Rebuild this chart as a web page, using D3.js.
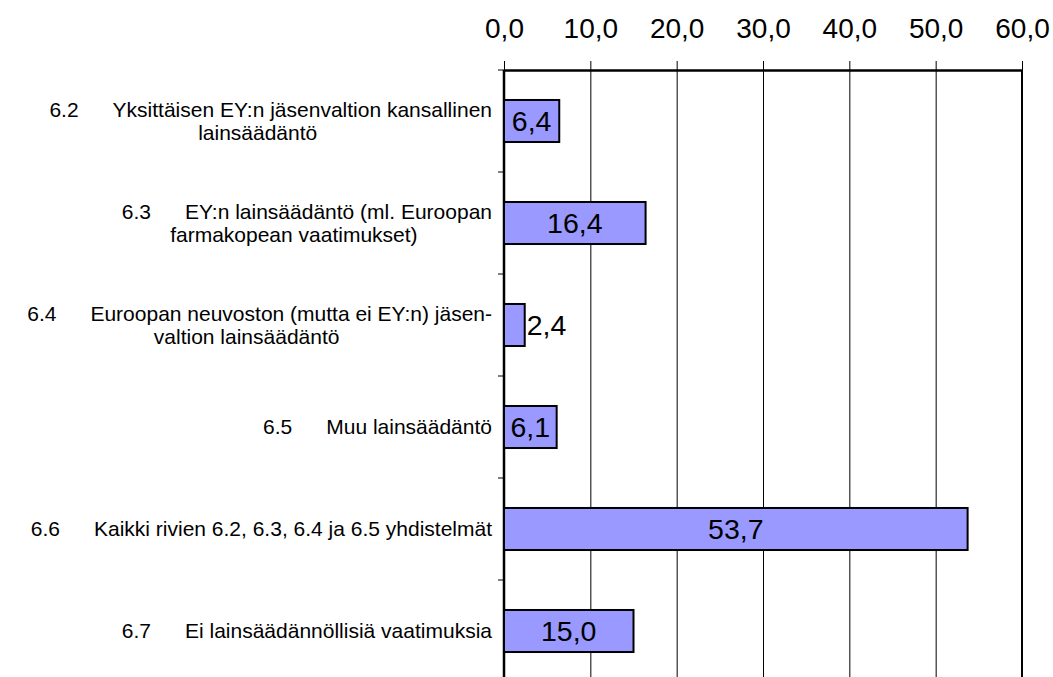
<!DOCTYPE html>
<html>
<head>
<meta charset="utf-8">
<script src="https://cdn.jsdelivr.net/npm/d3@7"></script>
<style>
  body { margin: 0; background: #fff; }
  svg { display: block; font-family: "Liberation Sans", Arial, sans-serif; }
</style>
</head>
<body>
<div id="chart-area"></div>
<script>

// Data
var numbers = ["6.2", "6.3", "6.4", "6.5", "6.6", "6.7"];
var labels = [
    ["Yksittäisen EY:n jäsenvaltion kansallinen", "lainsäädäntö"],
    ["EY:n lainsäädäntö (ml. Euroopan", "farmakopean vaatimukset)"],
    ["Euroopan neuvoston (mutta ei EY:n) jäsen-", "valtion lainsäädäntö"],
    ["Muu lainsäädäntö"],
    ["Kaikki rivien 6.2, 6.3, 6.4 ja 6.5 yhdistelmät"],
    ["Ei lainsäädännöllisiä vaatimuksia"]
];
var values = [6.4, 16.4, 2.4, 6.1, 53.7, 15.0];
var tickValues = [0, 10, 20, 30, 40, 50, 60];

// Size
var W = 1053, H = 677;
var margin = { left: 504, right: 31, top: 70 },
    width = W - margin.left - margin.right,
    height = 612;

var svg = d3.select("#chart-area").append("svg")
    .attr("width", W)
    .attr("height", H);

var g = svg.append("g")
    .attr("transform", "translate(" + margin.left + "," + margin.top + ")");

// Scales
var x = d3.scaleLinear().domain([0, 60]).range([0, width]);
var y = d3.scaleBand().domain(numbers).range([0, height])
    .paddingInner(0.588).paddingOuter(0.294);

var fmt = function(d) { return d.toFixed(1).replace(".", ","); };

// Gridlines
g.append("g")
    .attr("class", "grid")
    .call(d3.axisTop(x).tickValues(tickValues.slice(1, -1)).tickSize(-height).tickFormat(""))
    .call(function(s) { s.select(".domain").remove(); })
    .selectAll("line").attr("stroke", "#000").attr("stroke-width", 1);

// Right border at max
g.append("line")
    .attr("x1", x(60)).attr("x2", x(60))
    .attr("y1", 0).attr("y2", height)
    .attr("stroke", "#000").attr("stroke-width", 2);

// Top axis
var xAxis = g.append("g")
    .attr("class", "x axis")
    .call(d3.axisTop(x).tickValues(tickValues).tickFormat(fmt).tickSize(9).tickPadding(23).tickSizeOuter(0));
xAxis.select(".domain").attr("stroke-width", 2.5);
xAxis.selectAll("line").attr("stroke-width", 1);
xAxis.selectAll("text")
    .attr("font-size", "28px")
    .attr("font-family", "Liberation Sans, Arial, sans-serif")
    .attr("fill", "#000");

// Left axis with ticks at category boundaries
var gap = (y.step() - y.bandwidth()) / 2;
var bounds = numbers.map(function(d) { return y(d) - gap; }).concat([height]);
g.append("line")
    .attr("x1", 0).attr("x2", 0)
    .attr("y1", 0).attr("y2", height)
    .attr("stroke", "#000").attr("stroke-width", 2.5);
g.selectAll(".ytick").data(bounds).enter().append("line")
    .attr("class", "ytick")
    .attr("x1", -6).attr("x2", 0)
    .attr("y1", function(d) { return d; })
    .attr("y2", function(d) { return d; })
    .attr("stroke", "#000").attr("stroke-width", 1);

// Bars
g.selectAll(".bar").data(values).enter().append("rect")
    .attr("class", "bar")
    .attr("x", 0)
    .attr("y", function(d, i) { return y(numbers[i]); })
    .attr("width", function(d) { return x(d); })
    .attr("height", y.bandwidth())
    .attr("fill", "#9999FF")
    .attr("stroke", "#000")
    .attr("stroke-width", 2);

// Value labels
g.selectAll(".val").data(values).enter().append("text")
    .attr("class", "val")
    .attr("font-size", "28.5px")
    .attr("fill", "#000")
    .attr("y", function(d, i) { return y(numbers[i]) + y.bandwidth() / 2; })
    .attr("dy", "0.36em")
    .text(fmt)
    .each(function(d) {
        var t = d3.select(this), w = this.getComputedTextLength();
        if (x(d) > w + 4) {
            t.attr("x", x(d) / 2).attr("text-anchor", "middle");
        } else {
            t.attr("x", x(d) + 2).attr("text-anchor", "start");
        }
    });

// Category labels
var lineH = 23;
numbers.forEach(function(num, i) {
    var lines = labels[i];
    var cy = y(num) + y.bandwidth() / 2;
    var y0 = cy - (lines.length - 1) * lineH / 2;
    var first = g.append("text")
        .attr("x", -12)
        .attr("y", y0)
        .attr("dy", "0.35em")
        .attr("text-anchor", "end")
        .attr("font-size", "21px")
        .attr("fill", "#000");
    first.append("tspan").text(num);
    first.append("tspan").attr("dx", 34).text(lines[0]);
    var w = first.node().getComputedTextLength() + 34;
    var centre = -12 - w / 2 - 13;
    lines.slice(1).forEach(function(l, j) {
        g.append("text")
            .attr("x", centre)
            .attr("y", y0 + (j + 1) * lineH)
            .attr("dy", "0.35em")
            .attr("text-anchor", "middle")
            .attr("font-size", "21px")
            .attr("fill", "#000")
            .text(l);
    });
});

</script>
</body>
</html>
